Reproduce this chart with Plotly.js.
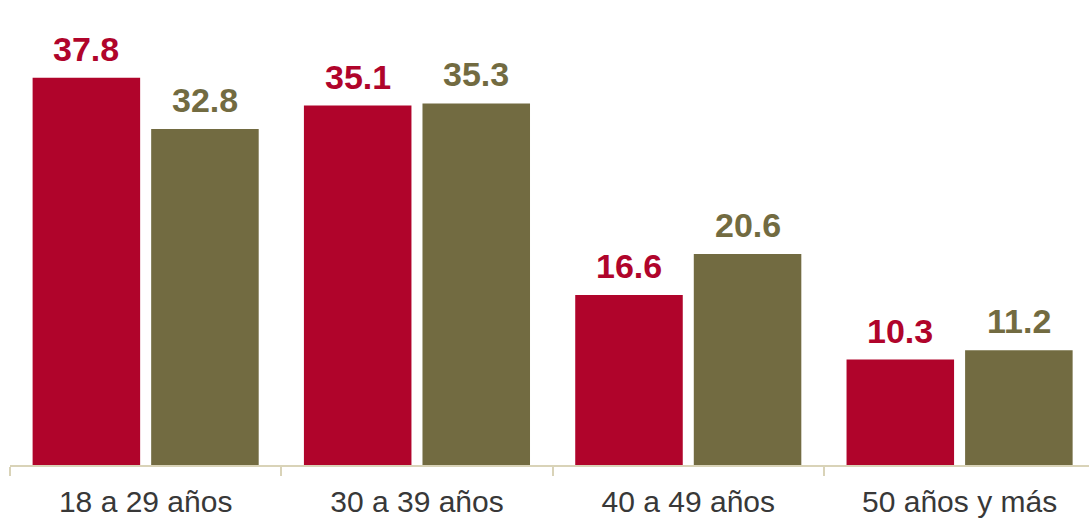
<!DOCTYPE html>
<html>
<head>
<meta charset="utf-8">
<script src="https://cdn.plot.ly/plotly-3.0.1.min.js"></script>
<style>html,body{margin:0;padding:0;background:#fff;}#chart{width:1089px;height:520px;}</style>
</head>
<body>
<div id="chart"></div>
<script>
const categories = ["18 a 29 años", "30 a 39 años", "40 a 49 años", "50 años y más"];
const seriesA = [37.8, 35.1, 16.6, 10.3];
const seriesB = [32.8, 35.3, 20.6, 11.2];

const red = "#B0042B";
const olive = "#726B41";
const FONT = "Liberation Sans, Arial, sans-serif";

const W = 1089, H = 520;
const margin = {l: 10, r: 0, t: 0, b: 55};
const xRange = [-0.5, 3.477];
const bargap = 0.126;
// pixel width of one category and half a bar slot, for label offsets
const catPx = (W - margin.l - margin.r) / (xRange[1] - xRange[0]);
const slotShift = catPx * (1 - bargap) / 4;

const traces = [
  {type: "bar", x: categories, y: seriesA, marker: {color: red}, hoverinfo: "none"},
  {type: "bar", x: categories, y: seriesB, marker: {color: olive}, hoverinfo: "none"}
];

const annotations = [];
[[seriesA, red, -1], [seriesB, olive, 1]].forEach(([vals, col, side]) => {
  vals.forEach((v, i) => {
    annotations.push({
      x: categories[i], y: v, xref: "x", yref: "y",
      text: v.toFixed(1), showarrow: false,
      xanchor: "center", yanchor: "bottom",
      xshift: side * slotShift, yshift: 8,
      font: {family: FONT, size: 34, color: col, weight: 700}
    });
  });
});

const layout = {
  width: W, height: H, margin: margin,
  paper_bgcolor: "#fff", plot_bgcolor: "#fff",
  showlegend: false,
  barmode: "group", bargap: bargap, bargroupgap: 0.093,
  font: {family: FONT},
  annotations: annotations,
  xaxis: {type: "category", range: xRange, showline: true, linecolor: "#D9D3B8", linewidth: 2,
    ticks: "outside", tickson: "boundaries", ticklen: 9, tickcolor: "#D9D3B8", tickwidth: 2,
    ticklabelstandoff: 9,
    tickfont: {size: 30, color: "#383838"}, showgrid: false, zeroline: false},
  yaxis: {range: [0, 45.4], visible: false, showgrid: false, zeroline: false}
};

Plotly.newPlot("chart", traces, layout, {displayModeBar: false, staticPlot: true});
</script>
</body>
</html>
